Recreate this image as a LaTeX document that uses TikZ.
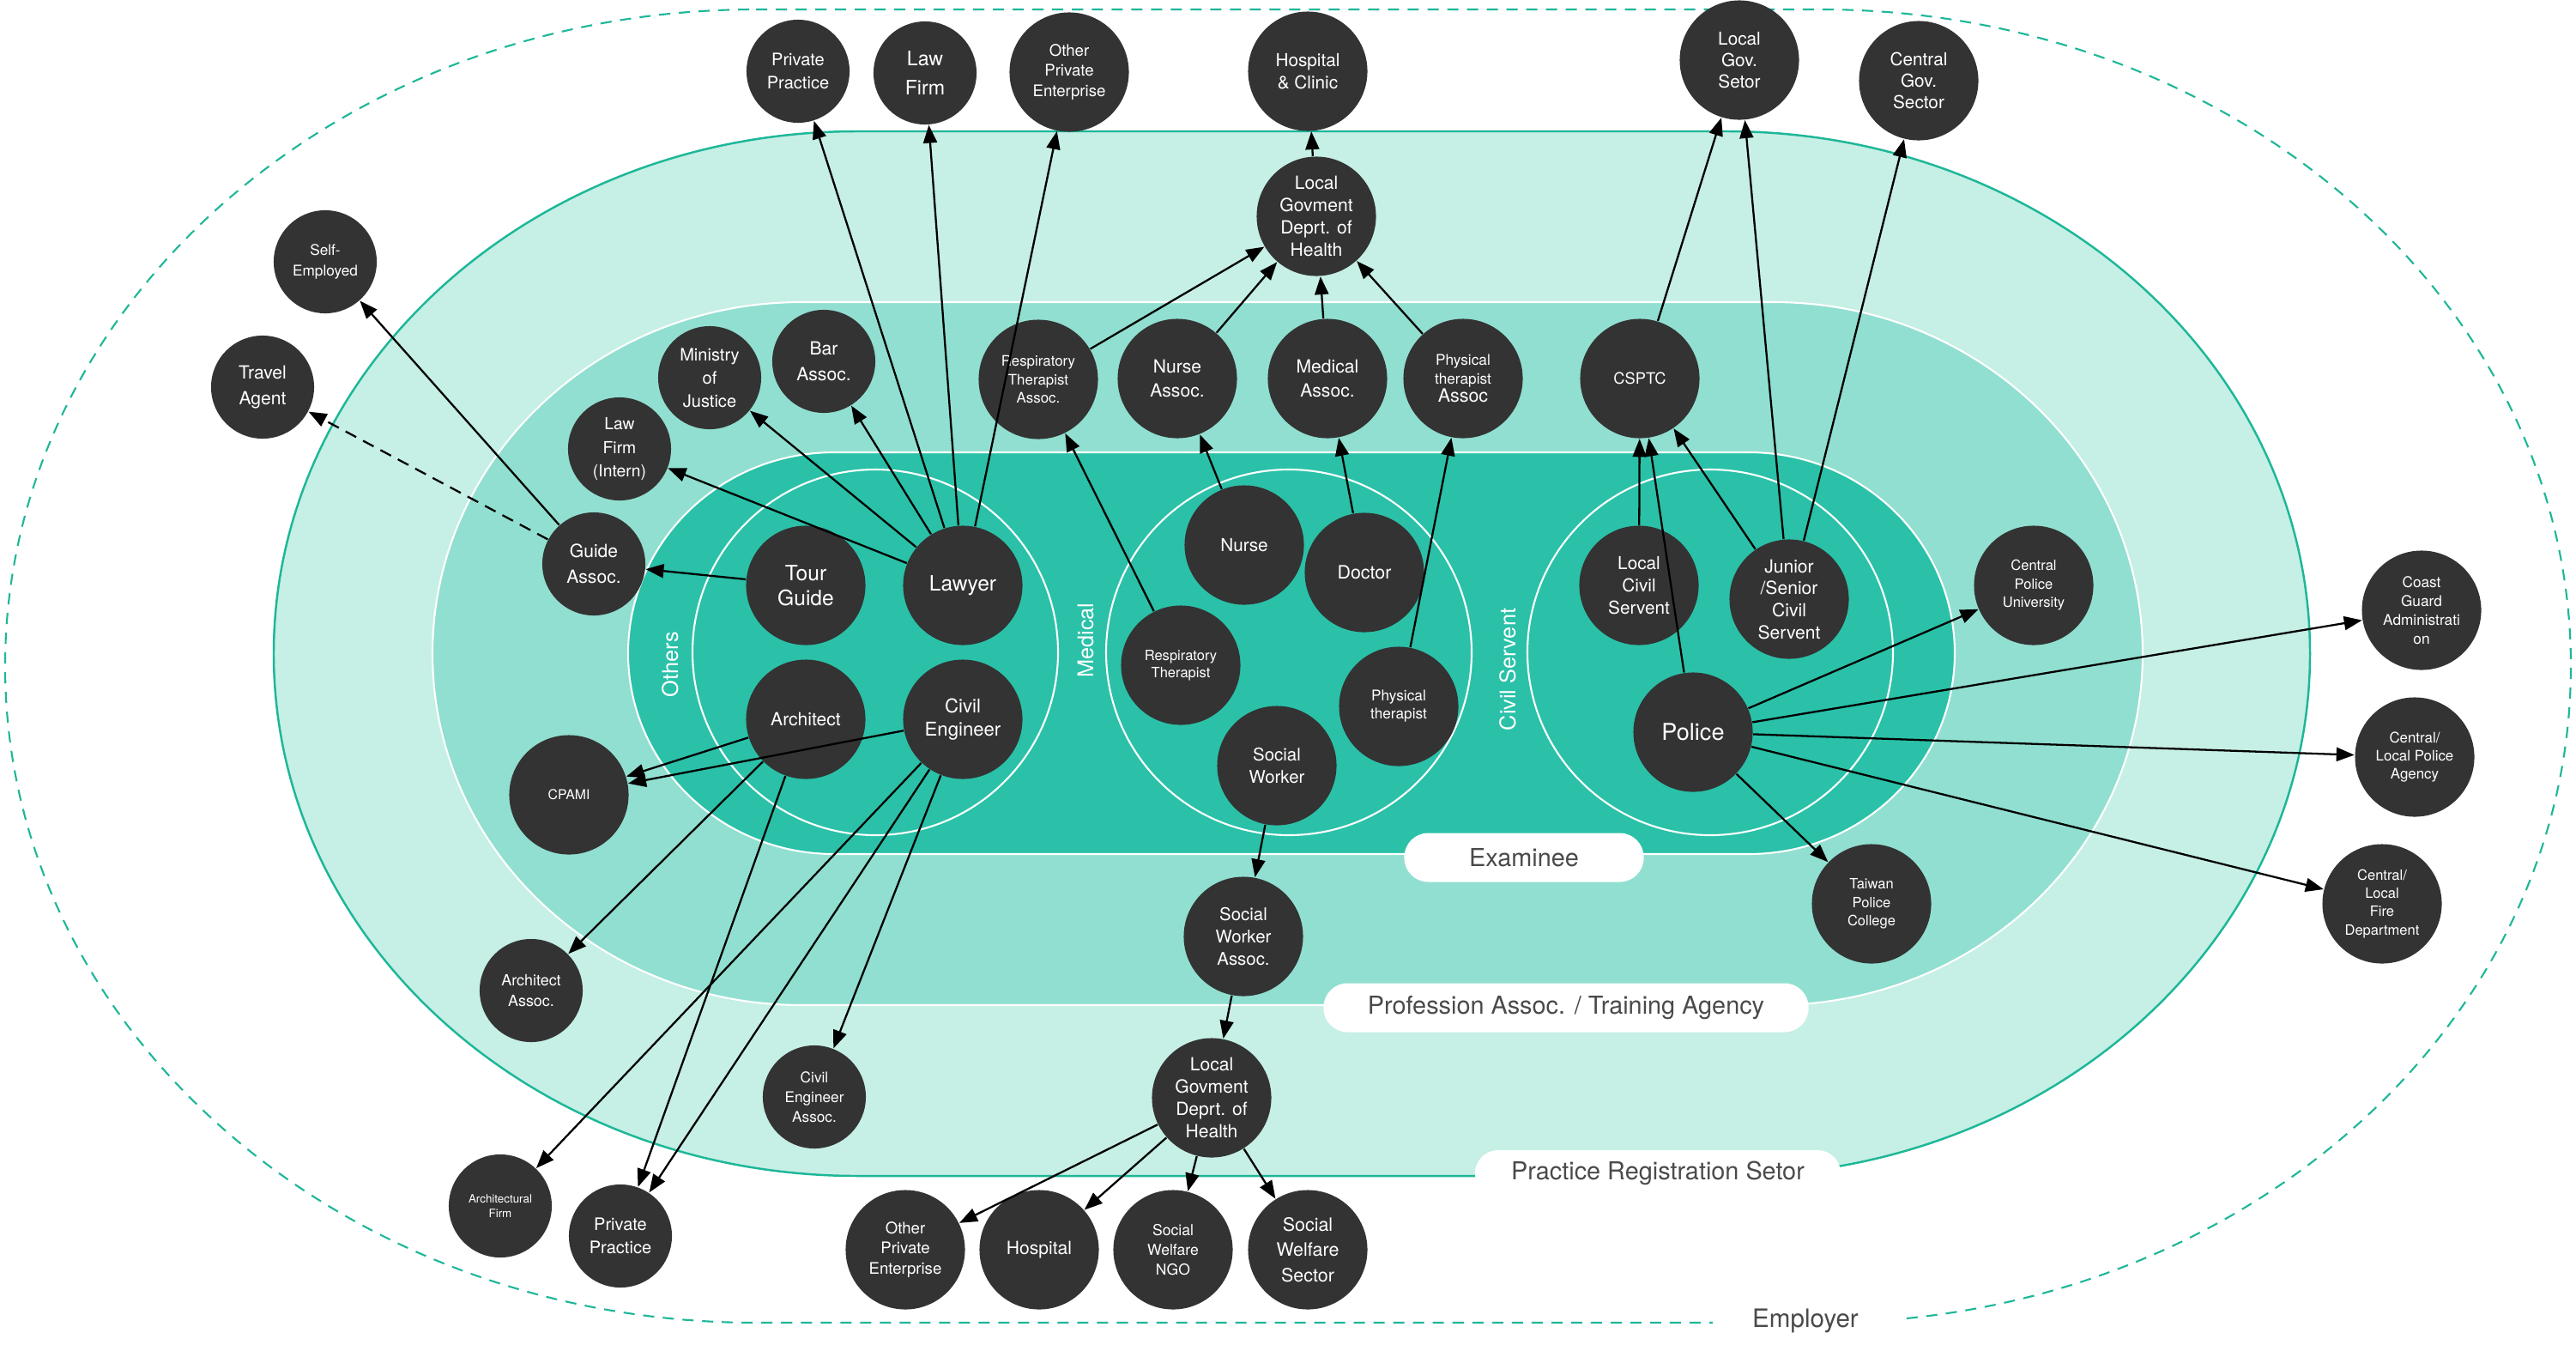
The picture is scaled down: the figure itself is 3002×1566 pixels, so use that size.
\documentclass[tikz,border=0pt]{standalone}
\usepackage{fontspec}
\setmainfont{TeX Gyre Heros}
\usepackage{xcolor}
\usepackage{tikz}
\usetikzlibrary{arrows.meta}

\definecolor{palemint}{HTML}{C6EFE5}
\definecolor{midmint}{HTML}{91DFD0}
\definecolor{examteal}{HTML}{2AC1A8}
\definecolor{lineteal}{HTML}{1DB798}
\definecolor{nodegray}{HTML}{333333}
\definecolor{labgray}{HTML}{4A4A4A}

% band with round ends: options, x0, y0, x1, y1, end radius
\newcommand{\layerband}[6]{%
  \path[#1] (#2+#6,#3) -- (#4-#6,#3)
    arc[start angle=-90, end angle=90, x radius=#6, y radius={(#5-#3)/2}]
    -- (#2+#6,#5)
    arc[start angle=90, end angle=270, x radius=#6, y radius={(#5-#3)/2}]
    -- cycle;}

\begin{document}
\begin{tikzpicture}[
  x=0.01cm, y=-0.01cm,
  fs/.style 2 args={font=\fontsize{#1}{#2}\selectfont},
  nd/.style={circle, fill=nodegray, text=white, inner sep=0pt, minimum size=1.39cm, align=center},
  sm/.style={nd, minimum size=1.2cm},
  pill/.style={fill=white, text=labgray, rounded corners=0.28cm, minimum height=0.57cm, inner sep=0pt, fs={8.2}{9.8}},
  grp/.style={text=white, rotate=90, fs={7.2}{8.6}},
  arrow/.style={-{Triangle[length=0.21cm, width=0.16cm]}, line width=0.65pt, black}
]
\useasboundingbox (0,0) rectangle (3002,1566);
\fill[white] (0,0) rectangle (3002,1566);

% layers
\layerband{draw=lineteal, line width=0.6pt, dash pattern=on 0.13cm off 0.1cm}{6}{11}{2996}{1541}{875}
\layerband{fill=palemint, draw=lineteal, line width=0.7pt}{319}{153}{2692}{1370}{680}
\layerband{fill=midmint, draw=white, line width=0.6pt}{504}{352}{2497}{1171}{430}
\layerband{fill=examteal, draw=white, line width=0.6pt}{732}{527}{2278}{995}{240}

% groups of examinees
\draw[white, line width=0.6pt] (1020,760) circle[radius=213];
\draw[white, line width=0.6pt] (1502,760) circle[radius=213];
\draw[white, line width=0.6pt] (1993,760) circle[radius=213];
\node[grp] (othersLab) at (781,774) {Others};
\node[grp] (medLab) at (1265,746) {Medical};
\node[grp] (civilLab) at (1757,780) {Civil Servent};

% layer labels
\node[pill, minimum width=2.79cm] (examLab) at (1776,999) {Examinee};
\node[pill, minimum width=5.65cm] (profLab) at (1825,1174) {Profession Assoc. / Training Agency};
\node[pill, minimum width=4.26cm, minimum height=0.54cm, rounded corners=0.27cm] (pracLab) at (1932,1367) {Practice Registration Setor};
\node[fill=white, text=labgray, fs={8.4}{10}, minimum width=2.15cm, inner sep=1pt] (empLab) at (2104,1539) {Employer};

% employers
\node[sm, fs={5.7}{7.7}] (ppTop) at (930,83) {Private\\Practice};
\node[sm, fs={6.6}{9.6}] (lawFirm) at (1078,85) {Law\\Firm};
\node[nd, fs={5.3}{6.7}] (otherTop) at (1246,84) {Other\\Private\\Enterprise};
\node[nd, fs={5.9}{7.5}] (hospClinic) at (1524,83) {Hospital\\\& Clinic};
\node[nd, fs={5.9}{7.2}] (localGov) at (2027,70) {Local\\Gov.\\Setor};
\node[nd, fs={5.9}{7.2}] (centralGov) at (2236,94) {Central\\Gov.\\Sector};
\node[sm, fs={4.9}{6.6}] (selfEmp) at (379,305) {Self-\\Employed};
\node[sm, fs={6.0}{8.5}] (travel) at (306,451) {Travel\\Agent};
\node[nd, fs={4.9}{6.2}] (coast) at (2822,711) {Coast\\Guard\\Administrati\\on};
\node[nd, fs={4.8}{6.1}] (policeAgency) at (2814,882) {Central/\\Local Police\\Agency};
\node[nd, fs={4.7}{6.0}] (fireDept) at (2776,1053) {Central/\\Local\\Fire\\Department};
\node[sm, fs={3.8}{4.8}] (archFirm) at (583,1405) {Architectural\\Firm};
\node[sm, fs={5.7}{7.7}] (ppBot) at (723,1440) {Private\\Practice};
\node[nd, fs={5.3}{6.7}] (otherBot) at (1055,1456) {Other\\Private\\Enterprise};
\node[nd, fs={6.0}{7.5}] (hospital) at (1211,1456) {Hospital};
\node[nd, fs={5.0}{6.5}] (welfareNGO) at (1367,1456) {Social\\Welfare\\NGO};
\node[nd, fs={6.1}{8.3}] (welfareSector) at (1524,1456) {Social\\Welfare\\Sector};

% practice registration
\node[nd, fs={6.0}{7.4}] (healthTop) at (1534,252) {Local\\Govment\\Deprt. of\\Health};
\node[nd, fs={6.0}{7.4}] (healthBot) at (1412,1279) {Local\\Govment\\Deprt. of\\Health};
\node[sm, fs={5.1}{6.6}] (archAssoc) at (619,1154) {Architect\\Assoc.};
\node[sm, fs={4.9}{6.6}] (civilAssoc) at (949,1278) {Civil\\Engineer\\Assoc.};

% profession assoc. / training agency
\node[sm, fs={5.5}{7.7}] (lawIntern) at (722,523) {Law\\Firm\\(Intern)};
\node[sm, fs={5.7}{7.7}] (ministry) at (827,440) {Ministry\\of\\Justice};
\node[sm, fs={6.0}{8.4}] (barAssoc) at (960,421) {Bar\\Assoc.};
\node[sm, fs={6.0}{8.5}] (guideAssoc) at (692,657) {Guide\\Assoc.};
\node[nd, fs={4.5}{5.6}] (cpami) at (663,926) {CPAMI};
\node[nd, fs={4.8}{6.2}] (rtAssoc) at (1210,442) {Respiratory\\Therapist\\Assoc.};
\node[nd, fs={6.0}{8.0}] (nurseAssoc) at (1372,441) {Nurse\\Assoc.};
\node[nd, fs={6.0}{8.0}] (medAssoc) at (1547,441) {Medical\\Assoc.};
\node[nd, fs={4.9}{6.1}] (ptAssoc) at (1705,441) {Physical\\therapist\\{\fontsize{6.1}{7.7}\selectfont Assoc}};
\node[nd, fs={5.2}{6.5}] (csptc) at (1911,441) {CSPTC};
\node[nd, fs={5.8}{7.5}] (swAssoc) at (1449,1091) {Social\\Worker\\Assoc.};
\node[nd, fs={4.7}{6.1}] (cpu) at (2370,682) {Central\\Police\\University};
\node[nd, fs={4.7}{6.1}] (tpc) at (2181,1053) {Taiwan\\Police\\College};

% examinees
\node[nd, fs={7.0}{8.2}] (tourGuide) at (939,682) {Tour\\Guide};
\node[nd, fs={7.0}{8.2}] (lawyer) at (1122,682) {Lawyer};
\node[nd, fs={6.0}{7.4}] (architect) at (939,838) {Architect};
\node[nd, fs={6.3}{7.5}] (civilEng) at (1122,838) {Civil\\Engineer};
\node[nd, fs={5.9}{7.2}] (nurse) at (1450,635) {Nurse};
\node[nd, fs={6.1}{7.4}] (doctor) at (1590,667) {Doctor};
\node[nd, fs={4.7}{5.8}] (respTh) at (1376,775) {Respiratory\\Therapist};
\node[nd, fs={4.9}{6.0}] (physTh) at (1630,823) {Physical\\therapist};
\node[nd, fs={5.8}{7.4}] (socialWk) at (1488,892) {Social\\Worker};
\node[nd, fs={5.9}{7.3}] (localCivil) at (1910,682) {Local\\Civil\\Servent};
\node[nd, fs={6.0}{7.3}] (junior) at (2085,698) {Junior\\/Senior\\Civil\\Servent};
\node[nd, fs={7.7}{9.2}] (police) at (1973,853) {Police};

% others
\draw[arrow] (tourGuide) -- (guideAssoc);
\draw[arrow] (guideAssoc) -- (selfEmp);
\draw[arrow, dash pattern=on 0.14cm off 0.09cm] (guideAssoc) -- (travel);
\foreach \t in {lawIntern, ministry, barAssoc, ppTop, lawFirm, otherTop}
  \draw[arrow] (lawyer) -- (\t);
\foreach \t in {cpami, archAssoc, ppBot}
  \draw[arrow] (architect) -- (\t);
\foreach \t in {cpami, archFirm, ppBot, civilAssoc}
  \draw[arrow] (civilEng) -- (\t);

% medical
\draw[arrow] (respTh) -- (rtAssoc);
\draw[arrow] (nurse) -- (nurseAssoc);
\draw[arrow] (doctor) -- (medAssoc);
\draw[arrow] (physTh) -- (ptAssoc);
\foreach \s in {rtAssoc, nurseAssoc, medAssoc, ptAssoc}
  \draw[arrow] (\s) -- (healthTop);
\draw[arrow] (healthTop) -- (hospClinic);
\draw[arrow] (socialWk) -- (swAssoc);
\draw[arrow] (swAssoc) -- (healthBot);
\foreach \t in {otherBot, hospital, welfareNGO, welfareSector}
  \draw[arrow] (healthBot) -- (\t);

% civil servant
\draw[arrow] (localCivil) -- (csptc);
\draw[arrow] (police) -- (csptc);
\draw[arrow] (junior) -- (csptc);
\draw[arrow] (csptc) -- (localGov);
\draw[arrow] (junior) -- (localGov);
\draw[arrow] (junior) -- (centralGov);
\foreach \t in {cpu, coast, policeAgency, fireDept, tpc}
  \draw[arrow] (police) -- (\t);
\end{tikzpicture}
\end{document}
